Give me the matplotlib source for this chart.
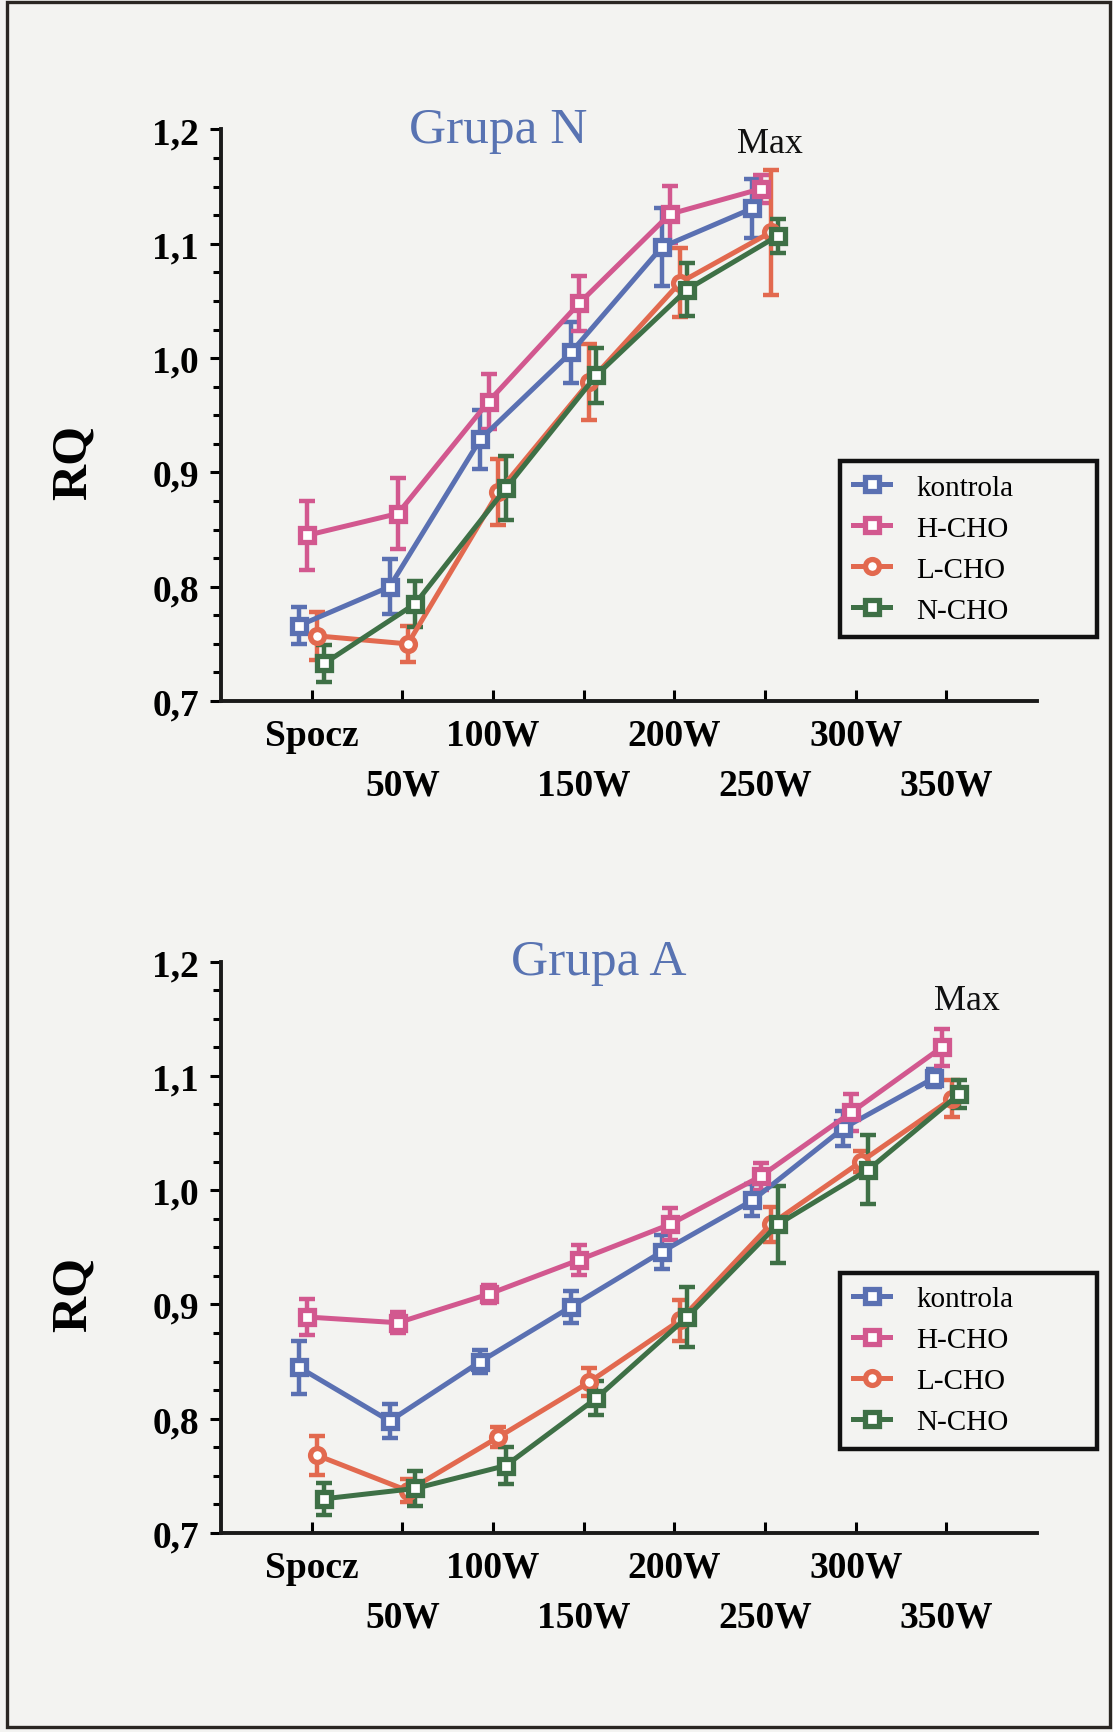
import matplotlib
matplotlib.use("Agg")
import matplotlib.pyplot as plt
import matplotlib.patches as mpatches
from matplotlib.ticker import MultipleLocator, FuncFormatter
import numpy as np

plt.rcParams["font.family"] = ["Liberation Serif", "DejaVu Serif"]

# ── Data ──────────────────────────────────────────────────────────────────────
stages = ["Spocz", "50W", "100W", "150W", "200W", "250W", "300W", "350W"]
series_names = ["kontrola", "H-CHO", "L-CHO", "N-CHO"]

# Grupa N (last point = Max, reached at 250W)
n_kontrola = [0.766, 0.800, 0.929, 1.005, 1.097, 1.131]
n_kontrola_err = [0.016, 0.024, 0.026, 0.027, 0.034, 0.026]
n_hcho = [0.845, 0.864, 0.962, 1.048, 1.126, 1.148]
n_hcho_err = [0.030, 0.031, 0.024, 0.024, 0.025, 0.012]
n_lcho = [0.757, 0.750, 0.883, 0.979, 1.066, 1.110]
n_lcho_err = [0.021, 0.016, 0.029, 0.033, 0.030, 0.055]
n_ncho = [0.733, 0.785, 0.886, 0.985, 1.060, 1.107]
n_ncho_err = [0.016, 0.020, 0.028, 0.024, 0.023, 0.015]

# Grupa A (last point = Max, reached at 350W)
a_kontrola = [0.845, 0.798, 0.850, 0.898, 0.946, 0.991, 1.054, 1.098]
a_kontrola_err = [0.023, 0.015, 0.010, 0.014, 0.015, 0.014, 0.015, 0.008]
a_hcho = [0.889, 0.884, 0.909, 0.939, 0.970, 1.012, 1.068, 1.125]
a_hcho_err = [0.016, 0.009, 0.008, 0.013, 0.014, 0.012, 0.016, 0.016]
a_lcho = [0.768, 0.737, 0.784, 0.832, 0.886, 0.970, 1.025, 1.080]
a_lcho_err = [0.017, 0.010, 0.009, 0.012, 0.018, 0.015, 0.009, 0.016]
a_ncho = [0.730, 0.739, 0.759, 0.818, 0.889, 0.970, 1.018, 1.084]
a_ncho_err = [0.014, 0.015, 0.016, 0.015, 0.026, 0.034, 0.030, 0.012]

# ── Style ─────────────────────────────────────────────────────────────────────
BG = "#F3F3F1"
COLORS = ["#5A70B2", "#D2588F", "#E2694F", "#3E7046"]
MARKERS = ["s", "s", "o", "s"]
OFFSETS = [-0.14, -0.05, 0.06, 0.14]
TITLE_COLOR = "#5873B2"

fig = plt.figure(figsize=(11.13, 17.33), dpi=100)
fig.patch.set_facecolor(BG)

# page frame
fig.patches.append(mpatches.Rectangle(
    (0.0063, 0.003), 0.991, 0.995, transform=fig.transFigure,
    facecolor="none", edgecolor="#2A2622", linewidth=2.4, zorder=0))


def comma_fmt(v, pos):
    return f"{v:.1f}".replace(".", ",")


def draw_panel(ax, data, errs, title, title_x, max_x, max_y, legend_anchor):
    ax.set_facecolor("none")
    for name, vals, err, col, mk, off in zip(series_names, data, errs,
                                             COLORS, MARKERS, OFFSETS):
        x = np.arange(len(vals)) + off
        ax.errorbar(x, vals, yerr=err, fmt="none", ecolor=col,
                    elinewidth=3.2, capsize=5.5, capthick=3.2, zorder=3)
        ax.plot(x, vals, color=col, lw=3.6, marker=mk, ms=10,
                mfc="white", mec=col, mew=3.8, label=name, zorder=4)

    ax.set_xlim(-1, 8)
    ax.set_ylim(0.7, 1.2)
    for s in ("top", "right"):
        ax.spines[s].set_visible(False)
    for s in ("left", "bottom"):
        ax.spines[s].set_linewidth(2.8)
        ax.spines[s].set_color("#1A1A1A")

    ax.yaxis.set_major_locator(MultipleLocator(0.1))
    ax.yaxis.set_minor_locator(MultipleLocator(0.025))
    ax.yaxis.set_major_formatter(FuncFormatter(comma_fmt))
    ax.tick_params(axis="y", which="major", direction="out", length=8,
                   width=2.2, pad=8, labelsize=27)
    ax.tick_params(axis="y", which="minor", direction="out", length=6,
                   width=2.2)

    ax.set_xticks(range(len(stages)))
    ax.set_xticklabels([s if i % 2 == 0 else "\n" + s
                        for i, s in enumerate(stages)])
    ax.tick_params(axis="x", direction="in", length=8, width=2.2, pad=12,
                   labelsize=27)
    for lbl in ax.get_xticklabels() + ax.get_yticklabels():
        lbl.set_fontweight("bold")
    for lbl in ax.get_xticklabels():
        lbl.set_linespacing(1.55)

    ax.set_ylabel("RQ", fontsize=36, fontweight="bold")
    ax.yaxis.set_label_coords(-0.152, 0.42)

    ax.text(title_x, 1.2, title, fontsize=37, color=TITLE_COLOR,
            ha="center", va="center", clip_on=False)
    ax.text(max_x, max_y, "Max", fontsize=26, color="#111111",
            ha="center", va="center", clip_on=False)

    leg = ax.legend(loc="upper left", bbox_to_anchor=legend_anchor,
                    bbox_transform=fig.transFigure, mode="expand",
                    borderaxespad=0, fontsize=21, handlelength=1.25,
                    handletextpad=0.9, labelspacing=0.5, borderpad=0.45,
                    fancybox=False, framealpha=1, facecolor=BG,
                    edgecolor="#111111")
    leg.get_frame().set_linewidth(3.2)


ax1 = fig.add_axes([0.1986, 0.5949, 0.7332, 0.3298])
draw_panel(ax1,
           [n_kontrola, n_hcho, n_lcho, n_ncho],
           [n_kontrola_err, n_hcho_err, n_lcho_err, n_ncho_err],
           "Grupa N", 2.06, 5.05, 1.188,
           (0.755, 0.6347, 0.2305, 0.0987))

ax2 = fig.add_axes([0.1986, 0.1148, 0.7332, 0.3298])
draw_panel(ax2,
           [a_kontrola, a_hcho, a_lcho, a_ncho],
           [a_kontrola_err, a_hcho_err, a_lcho_err, a_ncho_err],
           "Grupa A", 3.17, 7.23, 1.166,
           (0.755, 0.1645, 0.2305, 0.1004))

fig.savefig("out.png", dpi=100, facecolor=fig.get_facecolor())
plt.close(fig)
